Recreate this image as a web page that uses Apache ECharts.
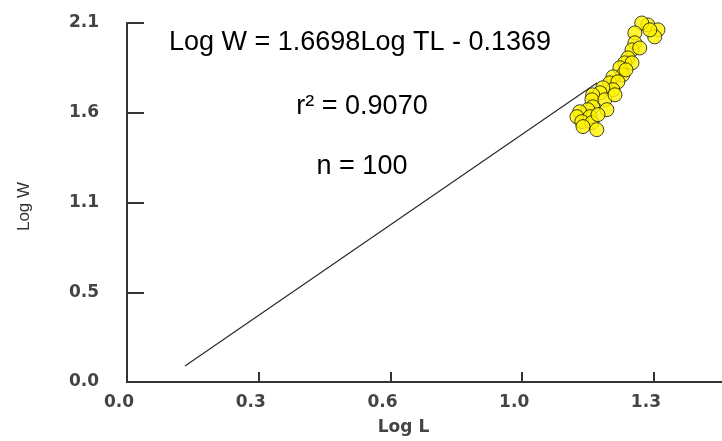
<!DOCTYPE html>
<html>
<head>
<meta charset="utf-8">
<script src="https://cdn.jsdelivr.net/npm/echarts@6/dist/echarts.min.js"></script>
<style>
html,body{margin:0;padding:0;background:#fff;}
#chart{width:722px;height:441px;}
</style>
</head>
<body>
<div id="chart"></div>
<script>
// ---- data ----
var xTickValues = [0, 0.325, 0.65, 0.975, 1.3];
var xTickLabels = ['0.0', '0.3', '0.6', '1.0', '1.3'];
var yTickValues = [0, 0.525, 1.05, 1.575, 2.1];
var yTickLabels = ['0.0', '0.5', '1.1', '1.6', '2.1'];

var logL = [1.285, 1.270, 1.310, 1.302, 1.290, 1.253, 1.253, 1.246, 1.236, 1.228,
            1.216, 1.246, 1.223, 1.199, 1.191, 1.211, 1.199, 1.174, 1.167, 1.149,
            1.147, 1.179, 1.149, 1.184, 1.137, 1.117, 1.110, 1.142, 1.122, 1.147,
            1.125, 1.159, 1.265, 1.231, 1.204, 1.162];
var logW = [2.089, 2.100, 2.060, 2.019, 2.060, 2.042, 1.984, 1.943, 1.896, 1.867,
            1.838, 1.867, 1.797, 1.785, 1.750, 1.756, 1.710, 1.721, 1.692, 1.680,
            1.651, 1.651, 1.610, 1.593, 1.593, 1.581, 1.552, 1.552, 1.523, 1.517,
            1.494, 1.476, 1.954, 1.826, 1.680, 1.564];

var fitX = [0.143, 1.16];
var fitY = [0.093, 1.75];

var eqText = 'Log W = 1.6698Log TL - 0.1369';
var r2Text = 'r\u00B2 = 0.9070';
var nText = 'n = 100';

// ---- build ----
function labelFor(values, labels) {
  return function (v) {
    for (var i = 0; i < values.length; i++) {
      if (Math.abs(v - values[i]) < 1e-6) return labels[i];
    }
    return '';
  };
}
var scatterData = logL.map(function (x, i) { return [x, logW[i]]; });
var fitData = fitX.map(function (x, i) { return [x, fitY[i]]; });

var axisColor = '#333';
var labelStyle = {
  fontFamily: 'DejaVu Sans',
  fontWeight: 'bold',
  fontSize: 17,
  color: '#444'
};

var chart = echarts.init(document.getElementById('chart'), null, {renderer: 'canvas'});
chart.setOption({
  animation: false,
  backgroundColor: '#fff',
  grid: {left: 127, right: 0, top: 23, bottom: 58, containLabel: false},
  xAxis: {
    type: 'value',
    min: 0,
    max: 1.468,
    splitLine: {show: false},
    axisLine: {show: true, onZero: false, lineStyle: {color: axisColor, width: 2}},
    axisTick: {show: true, inside: true, length: 10, customValues: xTickValues, lineStyle: {color: axisColor, width: 2}},
    axisLabel: Object.assign({
      margin: 12,
      padding: [0, 16, 0, 0],
      customValues: xTickValues,
      formatter: labelFor(xTickValues, xTickLabels)
    }, labelStyle),
    name: 'Log L',
    nameLocation: 'middle',
    nameGap: 37,
    nameTextStyle: {
      fontFamily: 'DejaVu Sans',
      fontWeight: 'bold',
      fontSize: 17,
      color: '#444',
      padding: [0, 42, 0, 0]
    }
  },
  yAxis: {
    type: 'value',
    min: 0,
    max: 2.1,
    splitLine: {show: false},
    axisLine: {show: true, onZero: false, lineStyle: {color: axisColor, width: 2}},
    axisTick: {show: true, inside: true, length: 17, customValues: yTickValues, lineStyle: {color: axisColor, width: 2}},
    axisLabel: Object.assign({
      margin: 28,
      padding: [0, 0, 10, 0],
      customValues: yTickValues,
      formatter: labelFor(yTickValues, yTickLabels)
    }, labelStyle),
    name: 'Log W',
    nameLocation: 'middle',
    nameGap: 94,
    nameRotate: 90,
    nameTextStyle: {
      fontFamily: 'Liberation Sans',
      fontSize: 17,
      color: '#333',
      padding: [0, 8, 0, 0]
    }
  },
  series: [
    {
      type: 'line',
      data: fitData,
      symbol: 'none',
      z: 1,
      lineStyle: {color: '#2a2a2a', width: 1.2}
    },
    {
      type: 'scatter',
      data: scatterData,
      symbol: 'circle',
      symbolSize: 14,
      z: 2,
      itemStyle: {color: '#fff200', borderColor: '#111', borderWidth: 1}
    }
  ],
  graphic: [
    {type: 'text', x: 360, y: 43, style: {text: eqText, font: '27px "Liberation Sans"', fill: '#000', align: 'center', verticalAlign: 'middle'}},
    {type: 'text', x: 362, y: 107, style: {text: r2Text, font: '27px "Liberation Sans"', fill: '#000', align: 'center', verticalAlign: 'middle'}},
    {type: 'text', x: 362, y: 167, style: {text: nText, font: '27px "Liberation Sans"', fill: '#000', align: 'center', verticalAlign: 'middle'}}
  ]
});
</script>
</body>
</html>
